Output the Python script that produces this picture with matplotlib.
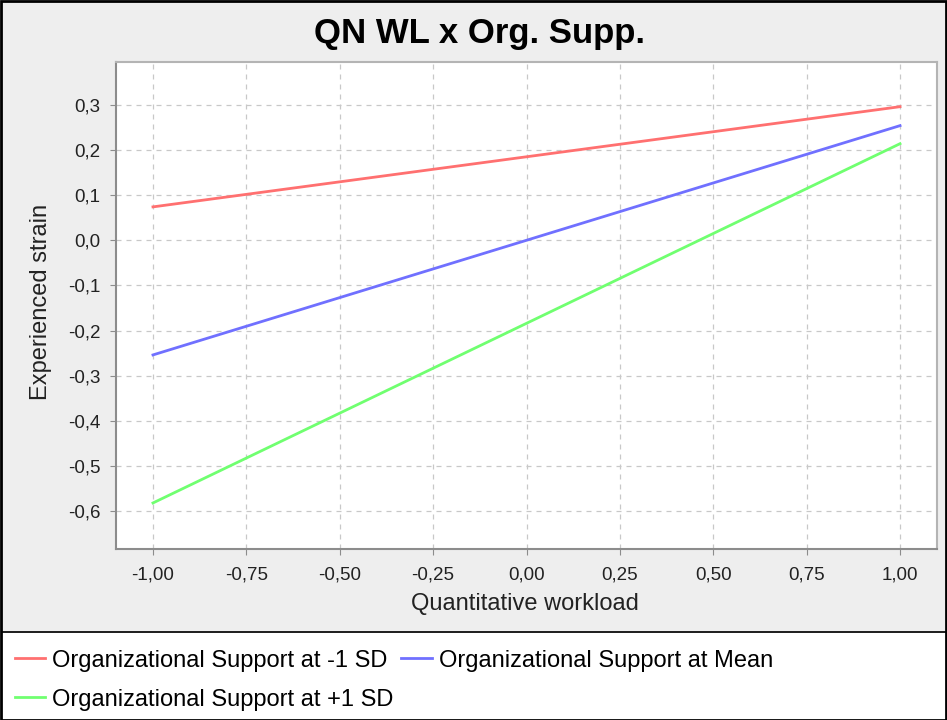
import matplotlib
matplotlib.use("Agg")
import matplotlib.pyplot as plt
from matplotlib.patches import Rectangle
from matplotlib.ticker import FuncFormatter

# data
workload = [-1.0, 1.0]
strain_low = [0.074, 0.296]     # Org. support at -1 SD
strain_mean = [-0.254, 0.254]   # Org. support at mean
strain_high = [-0.582, 0.214]   # Org. support at +1 SD
series_names = ["Organizational Support at -1 SD",
                "Organizational Support at Mean",
                "Organizational Support at +1 SD"]
x_ticks = [-1.0, -0.75, -0.5, -0.25, 0.0, 0.25, 0.5, 0.75, 1.0]
y_ticks = [-0.6, -0.5, -0.4, -0.3, -0.2, -0.1, 0.0, 0.1, 0.2, 0.3]

plt.rcParams['font.family'] = ['Liberation Sans', 'DejaVu Sans']

W, H = 947, 720
fig = plt.figure(figsize=(W / 100, H / 100), dpi=100, facecolor='white')

# grey chart background + black frame + separator above legend
fig.patches.append(Rectangle((0, 88 / H), 1, 1 - 88 / H, transform=fig.transFigure,
                             facecolor='#eeeeee', edgecolor='none', zorder=0))
fig.patches.append(Rectangle((1 / W, 87 / H), 1 - 2 / W, 2 / H, transform=fig.transFigure,
                             facecolor='#222222', edgecolor='none', zorder=1))
fig.patches.append(Rectangle((1 / W, 0), 1 - 2 / W, 1 - 1 / H, transform=fig.transFigure,
                             facecolor='none', edgecolor='black', linewidth=2, zorder=2))

ax = fig.add_axes([116 / W, (H - 549) / H, 821 / W, 487 / H])
ax.set_zorder(5)
ax.set_facecolor('white')

l1, = ax.plot(workload, strain_low, color='#ff7070', linewidth=2, label=series_names[0])
l2, = ax.plot(workload, strain_mean, color='#7070ff', linewidth=2, label=series_names[1])
l3, = ax.plot(workload, strain_high, color='#70ff70', linewidth=2, label=series_names[2])

ax.set_xlim(-1.099, 1.099)
ax.set_ylim(-0.684, 0.395)
ax.set_xticks(x_ticks)
ax.set_yticks(y_ticks)
ax.xaxis.set_major_formatter(FuncFormatter(lambda v, p: ("%.2f" % v).replace('.', ',')))
ax.yaxis.set_major_formatter(FuncFormatter(lambda v, p: ("%.1f" % (v + 0.0)).replace('.', ',')))

ax.grid(True, color='#c8c8c8', linestyle=(0, (4, 4)), linewidth=0.9)
ax.set_axisbelow(True)
for side in ['top', 'right']:
    ax.spines[side].set_color('#b4b4b4')
    ax.spines[side].set_linewidth(1.5)
for side in ['left', 'bottom']:
    ax.spines[side].set_color('#8c8c8c')
    ax.spines[side].set_linewidth(1.5)
ax.tick_params(axis='both', colors='#8c8c8c', length=4, labelcolor='#222222', labelsize=13.5)
ax.tick_params(axis='x', pad=8.5)
ax.tick_params(axis='y', pad=7)

ax.set_xlabel("Quantitative workload", fontsize=17, color='#222222')
ax.set_ylabel("Experienced strain", fontsize=17, color='#222222')
ax.xaxis.set_label_coords((525 - 116) / 821, (549 - 604) / 487)
ax.yaxis.set_label_coords((41 - 116) / 821, (549 - 302) / 487)
ax.xaxis.label.set_va('center')
ax.yaxis.label.set_va('center')

fig.text(480 / W, (H - 34) / H, "QN WL x Org. Supp.", ha='center', va='center',
         fontsize=25, fontweight='bold', color='black')

# row 1: -1 SD, Mean; row 2: +1 SD
fig.legend([l1, l3, l2], [series_names[0], series_names[2], series_names[1]],
           ncol=2, loc='upper left', bbox_to_anchor=(10 / W, 75 / H),
           frameon=False, fontsize=17, handlelength=1.3, handletextpad=0.3,
           columnspacing=0.3, labelspacing=0.72, borderaxespad=0, borderpad=0.2)

fig.savefig("out.png", dpi=100, facecolor=fig.get_facecolor())
